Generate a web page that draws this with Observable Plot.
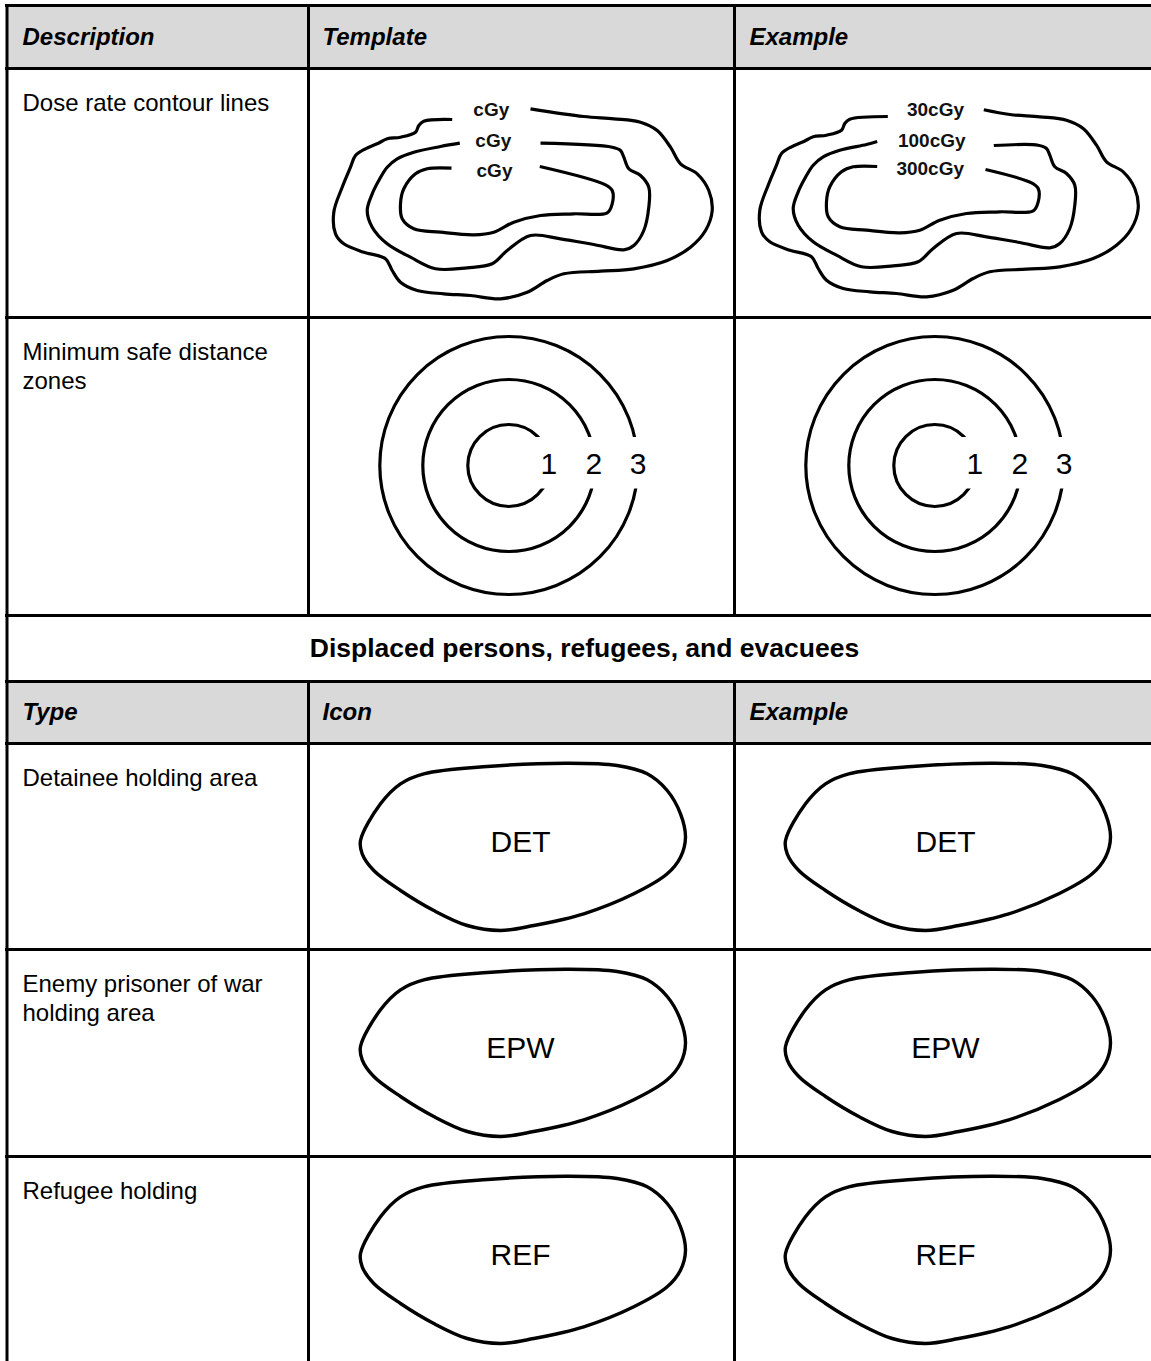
<!DOCTYPE html>
<html><head><meta charset="utf-8">
<script src="https://cdn.jsdelivr.net/npm/d3@7"></script>
<script src="https://cdn.jsdelivr.net/npm/@observablehq/plot@0.6"></script>
<style>
html,body{margin:0;padding:0;background:#fff;}
#chart svg{display:block;}
</style>
</head><body><div id="chart"></div>
<script>
// ---------------- content ----------------
const headerTop = ["Description", "Template", "Example"];
const headerBottom = ["Type", "Icon", "Example"];
const sectionTitle = ["Displaced persons, refugees, and evacuees"];
const topRowLabels = ["Dose rate contour lines", "Minimum safe distance\nzones"];
const bottomRowLabels = ["Detainee holding area", "Enemy prisoner of war\nholding area", "Refugee holding"];
const doseTemplateLabels = ["cGy", "cGy", "cGy"];
const doseExampleLabels = ["30cGy", "100cGy", "300cGy"];
const zoneNumbers = ["1", "2", "3"];
const iconCodes = ["DET", "EPW", "REF"];

// ---------------- shape data ----------------
// dose-rate contours of the template panel, from the left end of the label gap round to its right end
const contourOuter = [[451.7,119],[423.3,120.7],[418.3,125],[415,131.7],[400,136.7],[386.7,138.3],[376.7,143.3],[365,148.3],[355,155],[350,166.7],[341.7,186.7],[333.3,211.7],[335,233.3],[343.3,243.3],[363.3,251.7],[385,258.3],[391.7,270],[400,281.7],[416.7,290],[443.3,293.3],[470,295],[500,298.3],[526.7,291.7],[546.7,280],[563.3,273.3],[600,270.7],[633.3,268.3],[666.7,260],[690,246.7],[705,230],[711.7,210],[708.3,190],[696.7,173.3],[680,163.3],[670,146.7],[656.7,130],[640,121.7],[613.3,118.3],[583.3,116],[530,108.3]];
const contourMiddle = [[459.3,142.7],[440,146],[413.3,151.7],[396.7,158.3],[386.7,166.7],[378.3,180],[371.7,193.3],[366.7,210],[371.7,226.7],[386.7,243.3],[410,256.7],[435,268.3],[466.7,267.3],[491.7,263.3],[506.7,250],[530,235],[560,238.3],[593.3,244],[623.3,249.3],[633.3,245],[643.3,230],[648.3,206.7],[648.3,186.7],[640,175],[628.3,168.3],[623.3,156.7],[620,150],[611.7,146.7],[540,142.7]];
const contourInner = [[451,167.7],[426.7,168.3],[415,173.3],[403.3,188.3],[400,203.3],[401.7,218.3],[413.3,228.3],[440,231.7],[473.3,234.3],[493.3,231.7],[513.3,221.7],[540,215],[573.3,213.3],[606.7,212.3],[611.7,203.3],[611.7,190],[605,184.3],[539.3,166]];
// gap ends of the same contours in the example panel
const exampleGapEnds = [[[887.3,116],[983.3,109.3]], [[876.7,141],[993.3,145]], [[876.7,166],[985,169]]];
// minimum safe distance ring radii
const zoneRadii = [41, 86, 129];
// holding area outline (first icon row, icon column)
const holdingOutline = [[360,840],[380,803.3],[400,783.3],[423.3,773.3],[486.7,766],[566.7,762.7],[616.7,765],[646.7,773.3],[666.7,790],[680,813.3],[685,836.7],[680,856.7],[666.7,873.3],[633.3,893.3],[583.3,913.3],[533.3,925],[500,930],[466.7,925],[433.3,910],[400,890],[373.3,870],[361.7,853.3]];

// ---------------- layout ----------------
const W = 1151, H = 1361;
const LEFT = 6.5;
const colLeft = [LEFT, 308, 734];
const textX = [22, 322, 749];
const lines = [5, 68, 317, 615, 681, 743, 949, 1156];
const exampleDX = 426;
const font = "'Liberation Sans', Arial, Helvetica, sans-serif";

// table structure
const greyBands = [{y1: lines[0], y2: lines[1]}, {y1: lines[4], y2: lines[5]}];
const hRules = lines.map(y => ({y}));
const vRules = [
  {x: LEFT, y1: lines[0], y2: H},
  {x: colLeft[1], y1: lines[0], y2: lines[3]}, {x: colLeft[2], y1: lines[0], y2: lines[3]},
  {x: colLeft[1], y1: lines[4], y2: H}, {x: colLeft[2], y1: lines[4], y2: H}
];

const headTexts = [
  ...headerTop.map((t, i) => ({t, x: textX[i], y: (lines[0] + lines[1]) / 2})),
  ...headerBottom.map((t, i) => ({t, x: textX[i], y: (lines[4] + lines[5]) / 2}))
];
const descTexts = [
  ...topRowLabels.map((t, i) => ({t, x: textX[0], y: lines[1 + i] + 22})),
  ...bottomRowLabels.map((t, i) => ({t, x: textX[0], y: lines[5 + i] + 22}))
];

// contours
const contourPts = [];
[contourOuter, contourMiddle, contourInner].forEach((pts, i) => {
  pts.forEach(([x, y]) => contourPts.push({id: "t" + i, x, y}));
  const ex = [exampleGapEnds[i][0], ...pts.slice(1, -1).map(([x, y]) => [x + exampleDX, y - 2]), exampleGapEnds[i][1]];
  ex.forEach(([x, y]) => contourPts.push({id: "e" + i, x, y}));
});
const doseLabelPos = [[490.8,109.3],[492.8,140],[494,170.7]];
const doseExamplePos = [[935,109.3],[931.3,140],[929.7,168.3]];
const doseTexts = [
  ...doseTemplateLabels.map((t, i) => ({t, x: doseLabelPos[i][0], y: doseLabelPos[i][1]})),
  ...doseExampleLabels.map((t, i) => ({t, x: doseExamplePos[i][0], y: doseExamplePos[i][1]}))
];

// rings
const ringCenters = [[508.3, 465], [508.3 + exampleDX, 465]];
const rings = ringCenters.flatMap(([cx, cy]) => zoneRadii.map(r => ({x: cx, y: cy, r})));
const ringMasks = ringCenters.map(([cx, cy]) => ({x1: cx + 22, x2: cx + 145, y1: cy - 28, y2: cy + 23.5}));
const numberOffsets = [40, 85, 129.4];
const zoneTexts = ringCenters.flatMap(([cx, cy]) => zoneNumbers.map((t, i) => ({t, x: cx + numberOffsets[i], y: cy - 1.5})));

// holding areas
const blobPts = [];
const iconTexts = [];
iconCodes.forEach((code, row) => {
  const dy = lines[5 + row] - lines[5];
  [0, 425].forEach((dx, col) => {
    holdingOutline.forEach(([x, y]) => blobPts.push({id: code + col, x: x + dx, y: y + dy}));
    iconTexts.push({t: code, x: 520 + dx, y: 841.7 + dy});
  });
});

const chart = Plot.plot({
  width: W, height: H,
  margin: 0,
  x: {domain: [0, W], range: [0, W], axis: null},
  y: {domain: [0, H], range: [0, H], axis: null},
  r: {type: "linear", domain: [0, 1000], range: [0, 1000]},
  style: {fontFamily: font, background: "white", color: "black"},
  marks: [
    Plot.rect(greyBands, {x1: LEFT, x2: W, y1: "y1", y2: "y2", fill: "#d9d9d9"}),
    // contours
    Plot.line(contourPts, {x: "x", y: "y", z: "id", curve: "catmull-rom", stroke: "black", strokeWidth: 3.2, strokeLinejoin: "round", strokeLinecap: "butt"}),
    Plot.text(doseTexts, {x: "x", y: "y", text: "t", fontSize: 19, fontWeight: "bold", textAnchor: "middle", lineAnchor: "middle", fill: "#111"}),
    // rings
    Plot.dot(rings, {x: "x", y: "y", r: "r", stroke: "black", fill: "none", strokeWidth: 3.2}),
    Plot.rect(ringMasks, {x1: "x1", x2: "x2", y1: "y1", y2: "y2", fill: "white"}),
    Plot.text(zoneTexts, {x: "x", y: "y", text: "t", fontSize: 30, textAnchor: "middle", lineAnchor: "middle", fill: "black"}),
    // holding areas
    Plot.line(blobPts, {x: "x", y: "y", z: "id", curve: "catmull-rom-closed", stroke: "black", strokeWidth: 3.4}),
    Plot.text(iconTexts, {x: "x", y: "y", text: "t", fontSize: 30, textAnchor: "middle", lineAnchor: "middle", fill: "black"}),
    // table grid
    Plot.ruleY(hRules, {y: "y", x1: LEFT - 1.5, x2: W, stroke: "black", strokeWidth: 3}),
    Plot.ruleX(vRules, {x: "x", y1: "y1", y2: "y2", stroke: "black", strokeWidth: 3}),
    // texts
    Plot.text(headTexts, {x: "x", y: "y", text: "t", fontSize: 24, fontWeight: "bold", fontStyle: "italic", textAnchor: "start", lineAnchor: "middle", fill: "black"}),
    Plot.text(sectionTitle, {x: 584, y: (lines[3] + lines[4]) / 2, text: d => d, fontSize: 26.5, fontWeight: "bold", textAnchor: "middle", lineAnchor: "middle", fill: "black"}),
    Plot.text(descTexts, {x: "x", y: "y", text: "t", fontSize: 24, textAnchor: "start", lineAnchor: "top", lineHeight: 1.2, fill: "black"})
  ]
});
document.getElementById("chart").appendChild(chart);
</script>
</body></html>
